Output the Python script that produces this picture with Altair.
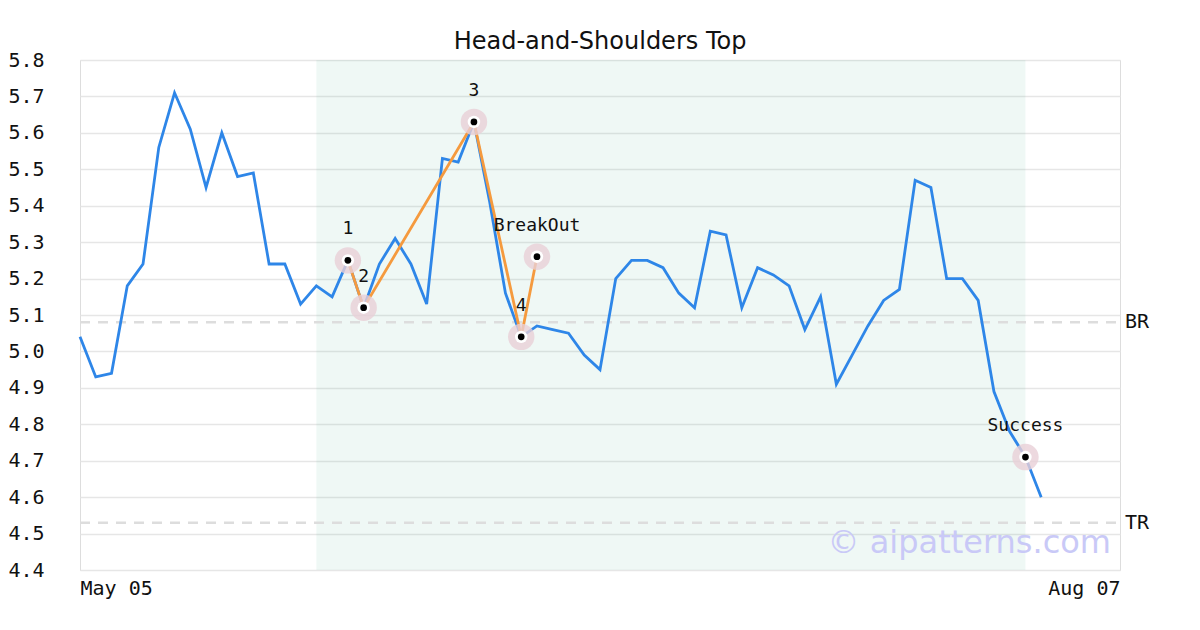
import altair as alt
import pandas as pd

# ---- data ----
prices = [5.04, 4.93, 4.94, 5.18, 5.24, 5.56, 5.71, 5.61, 5.45, 5.60,
          5.48, 5.49, 5.24, 5.24, 5.13, 5.18, 5.15, 5.25, 5.12, 5.24,
          5.31, 5.24, 5.13, 5.53, 5.52, 5.63, 5.41, 5.16, 5.04, 5.07,
          5.06, 5.05, 4.99, 4.95, 5.20, 5.25, 5.25, 5.23, 5.16, 5.12,
          5.33, 5.32, 5.12, 5.23, 5.21, 5.18, 5.06, 5.15, 4.91, 4.99,
          5.07, 5.14, 5.17, 5.47, 5.45, 5.20, 5.20, 5.14, 4.89, 4.78,
          4.71, 4.60]
days = list(range(len(prices)))

pattern_idx = [17, 18, 25, 28, 29]
pattern_val = [5.25, 5.12, 5.63, 5.04, 5.26]
pattern_lbl = ["1", "2", "3", "4", "BreakOut"]

success_idx = [60]
success_val = [4.71]
success_lbl = ["Success"]

shade_start = [15]
shade_end = [60]

level_names = ["BR", "TR"]
level_vals = [5.08, 4.53]

x_tick_pos = [0, 66]
x_tick_lbl = ["May 05", "Aug 07"]
y_ticks = [round(4.4 + 0.1 * i, 1) for i in range(15)]

MONO = "DejaVu Sans Mono"
SANS = "DejaVu Sans"

line_df = pd.DataFrame({"day": days, "price": prices})
pat_df = pd.DataFrame({"day": pattern_idx, "price": pattern_val, "label": pattern_lbl})
mark_df = pd.DataFrame({"day": pattern_idx + success_idx,
                        "price": pattern_val + success_val,
                        "label": pattern_lbl + success_lbl})
shade_df = pd.DataFrame({"start": shade_start, "end": shade_end})
lvl_df = pd.DataFrame({"name": level_names, "price": level_vals,
                       "day": [x_tick_pos[-1]] * len(level_names)})

label_expr = " : ".join(
    f"datum.value == {p} ? '{l}'" for p, l in zip(x_tick_pos[:-1], x_tick_lbl[:-1])
) + f" : '{x_tick_lbl[-1]}'"

xscale = alt.Scale(domain=[x_tick_pos[0], x_tick_pos[-1]], nice=False, zero=False)
yscale = alt.Scale(domain=[4.4, 5.8], nice=False, zero=False)

xaxis = alt.Axis(values=x_tick_pos, labelExpr=label_expr, grid=False, ticks=False,
                 domain=False, labelFont=MONO, labelFontSize=20, labelColor="#111",
                 labelFlush=True, labelPadding=8, labelOverlap=False, title=None)
yaxis = alt.Axis(values=y_ticks, format=".1f", grid=True, gridColor="#e6e6e6",
                 gridWidth=1.3, ticks=False, domain=False, labelFont=MONO,
                 labelFontSize=20, labelColor="#111", labelPadding=36,
                 labelOverlap=False, title=None)

X = alt.X("day:Q", scale=xscale, axis=xaxis)
Y = alt.Y("price:Q", scale=yscale, axis=yaxis)

shade = alt.Chart(shade_df).mark_rect(color="#5fb89a", opacity=0.1).encode(
    x=alt.X("start:Q", scale=xscale, axis=xaxis),
    x2="end:Q",
    y=alt.value(0),
    y2=alt.value(510),
)

levels = alt.Chart(lvl_df).mark_rule(color="#dddddd", strokeWidth=2.5,
                                     strokeDash=[10, 8]).encode(
    y=Y,
    x=alt.value(0),
    x2=alt.value(1040),
)

level_text = alt.Chart(lvl_df).mark_text(align="left", baseline="middle", dx=5,
                                         font=MONO, fontSize=20, color="#111").encode(
    x=X, y=Y, text="name:N",
)

price_line = alt.Chart(line_df).mark_line(color="#2e86e8", strokeWidth=2.8).encode(
    x=X, y=Y)

pat_line = alt.Chart(pat_df).mark_line(color="#f59a3e", strokeWidth=2.8).encode(
    x=X, y=Y)

halo = alt.Chart(mark_df).mark_circle(color="#e8d0d7", opacity=0.8, size=700).encode(
    x=X, y=Y)
ring = alt.Chart(mark_df).mark_circle(color="#ffffff", opacity=1, size=155).encode(
    x=X, y=Y)
dot = alt.Chart(mark_df).mark_circle(color="#000000", opacity=1, size=45).encode(
    x=X, y=Y)

labels = alt.Chart(mark_df).mark_text(dy=-31, font=MONO, fontSize=18,
                                      color="#111", baseline="middle").encode(
    x=X, y=Y, text="label:N",
)

watermark = alt.Chart(pd.DataFrame({"t": ["© aipatterns.com"]})).mark_text(
    align="right", baseline="middle", font=SANS, fontSize=32, color="#c9c9f7"
).encode(x=alt.value(1031), y=alt.value(483), text="t:N")

chart = alt.layer(
    shade, levels, price_line, pat_line, halo, ring, dot, labels,
    level_text, watermark
).properties(
    width=1040, height=510,
    title=alt.TitleParams("Head-and-Shoulders Top", font=SANS, fontSize=24,
                          fontWeight="normal", color="#111", anchor="middle",
                          offset=-4),
    autosize=alt.AutoSizeParams(type="none"),
    padding={"left": 72, "top": 52, "right": 64, "bottom": 40},
).configure_view(stroke="#dcdcdc", strokeWidth=2.5).configure(background="white")

chart.save("out.html", embed_options={"renderer": "svg", "actions": False})
